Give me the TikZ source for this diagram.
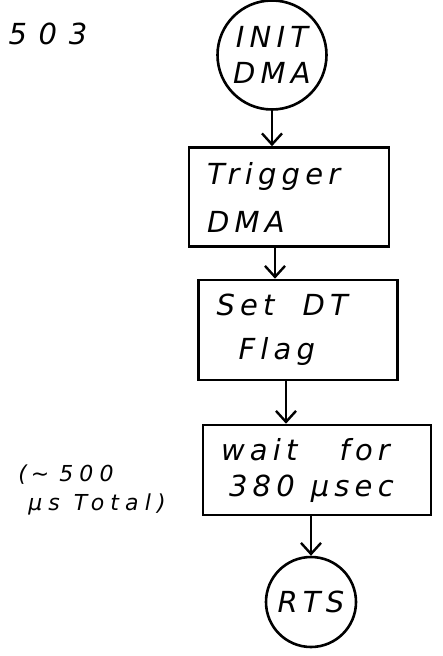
\documentclass[tikz,border=0pt]{standalone}
\usepackage{fontspec}
\setmainfont{DejaVu Sans}
\usetikzlibrary{shapes.geometric, arrows.meta}
\newcommand{\hand}{\itshape\addfontfeatures{LetterSpace=18}\fontsize{29}{48}\selectfont}
\newcommand{\handsmall}{\itshape\addfontfeatures{LetterSpace=28}\fontsize{22}{29}\selectfont}
\newcommand{\gap}[1]{\hspace{#1pt}}
\tikzstyle{terminal} = [circle, inner sep=0pt, align=center, draw=black, line width=2.6pt, font=\hand]
\tikzstyle{process} = [rectangle, inner xsep=18pt, align=left, draw=black, line width=2.6pt, font=\hand]
\tikzstyle{note} = [align=left, font=\handsmall]
\tikzstyle{arrow} = [line width=2.4pt,-{Straight Barb[length=11pt,width=20pt]}]

\begin{document}
\begin{tikzpicture}[x=1pt,y=-1pt]
\useasboundingbox (0,0) rectangle (442,656);

\node (init) [terminal, minimum size=109pt] at (272,55) {INIT\\[-12pt]DMA};
\node (trig) [process, minimum width=200pt, minimum height=99pt, text width=164pt] at (289,197) {Trigger\\DMA};
\node (flag) [process, minimum width=199pt, minimum height=100pt, text width=163pt] at (298,330) {Set\gap{28}DT\\[-4pt]\hspace*{22pt}Flag};
\node (wait) [process, minimum width=228pt, minimum height=90pt, text width=192pt] at (317,470) {wait\gap{42}for\\[-12pt]\hspace*{8pt}380\gap{16}μsec};
\node (rts) [terminal, minimum size=90pt] at (311,602) {RTS};

% side remark and sheet number
\node (total) [note] at (92,490) {(\gap{4}\textasciitilde\gap{10}500\\\hspace*{10pt}μs\gap{14}Total)};
\node (sheet) [note, font=\hand\addfontfeatures{LetterSpace=40}] at (48,34) {503};

\draw [arrow] (init.south) -- (init.south |- trig.north);
\draw [arrow] ([xshift=-14pt]trig.south) -- ([xshift=-14pt]trig.south |- flag.north);
\draw [arrow] ([xshift=-12pt]flag.south) -- ([xshift=-12pt]flag.south |- wait.north);
\draw [arrow] (wait.south -| rts) -- (rts);

\end{tikzpicture}
\end{document}
